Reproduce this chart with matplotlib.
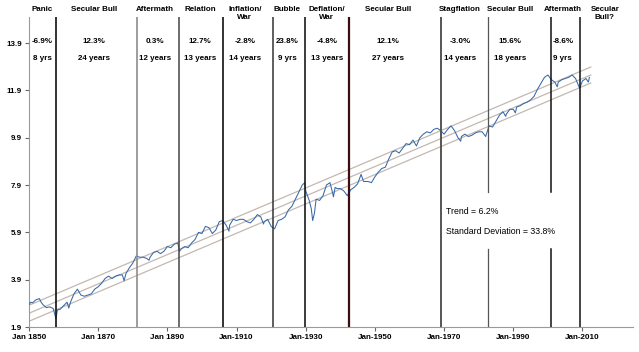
import matplotlib
matplotlib.use('Agg')
from matplotlib import pyplot as plt
from matplotlib import font_manager
import numpy as np

# Narrow face if there is one, plain Liberation otherwise
names = set(f.name for f in font_manager.fontManager.ttflist)
narrow = 'Liberation Sans Narrow' if 'Liberation Sans Narrow' in names else 'Liberation Sans'
plt.rcParams['font.family'] = [narrow, 'DejaVu Sans']
label_size = 6.5 if narrow == 'Liberation Sans Narrow' else 5.8

# Log index
years = [1850.0, 1850.5, 1851, 1852, 1853, 1853.5, 1854, 1855, 1856, 1857, 1857.8, 1858.2, 1859,
         1860, 1861, 1861.5, 1862, 1863, 1864, 1865, 1866, 1867, 1868, 1869, 1870, 1871, 1872,
         1873, 1874, 1875, 1876, 1877, 1877.5, 1878, 1879, 1880, 1881, 1882, 1883, 1884, 1884.7,
         1885, 1886, 1887, 1888, 1889, 1890, 1891, 1892, 1893, 1893.5, 1894, 1895, 1896, 1897,
         1898, 1899, 1900, 1901, 1902, 1903, 1904, 1905, 1906, 1907, 1907.8, 1908, 1909, 1910,
         1911, 1912, 1913, 1914, 1915, 1916, 1917, 1917.8, 1918, 1919, 1920, 1921, 1922, 1923,
         1924, 1925, 1926, 1927, 1928, 1929, 1929.7, 1930, 1931, 1931.6, 1932, 1932.5, 1933,
         1934, 1935, 1936, 1937, 1937.8, 1938, 1938.5, 1939, 1940, 1941, 1942, 1943, 1944, 1945,
         1946, 1946.7, 1947, 1948, 1949, 1950, 1951, 1952, 1953, 1954, 1955, 1956, 1957, 1958,
         1959, 1960, 1961, 1962, 1963, 1964, 1965, 1966, 1967, 1968, 1969, 1970, 1971, 1972,
         1973, 1974, 1974.8, 1975, 1976, 1977, 1978, 1979, 1980, 1981, 1982, 1983, 1984, 1985,
         1986, 1987, 1987.8, 1988, 1989, 1990, 1990.6, 1991, 1992, 1993, 1994, 1995, 1996, 1997,
         1998, 1999, 2000, 2001, 2002, 2002.7, 2003, 2004, 2005, 2006, 2007, 2008, 2009, 2009.2,
         2010, 2011, 2011.7, 2012]
index = [2.85, 2.95, 2.92, 3.05, 3.10, 2.95, 2.85, 2.72, 2.75, 2.68, 2.25, 2.62, 2.65,
         2.80, 2.95, 2.70, 2.95, 3.30, 3.50, 3.25, 3.20, 3.25, 3.30, 3.50, 3.60, 3.75, 3.95,
         4.05, 3.95, 4.05, 4.10, 4.10, 3.85, 4.15, 4.40, 4.60, 4.90, 4.85, 4.85, 4.80, 4.72,
         4.85, 5.05, 5.10, 5.00, 5.10, 5.30, 5.25, 5.40, 5.45, 5.10, 5.20, 5.30, 5.25, 5.45,
         5.60, 5.90, 5.85, 6.15, 6.10, 5.85, 6.00, 6.35, 6.40, 6.20, 5.95, 6.20, 6.45, 6.40,
         6.45, 6.45, 6.35, 6.30, 6.45, 6.65, 6.55, 6.25, 6.35, 6.45, 6.15, 6.05, 6.40, 6.45,
         6.55, 6.85, 7.00, 7.30, 7.60, 7.90, 8.00, 7.65, 7.25, 6.90, 6.40, 6.70, 7.30,
         7.25, 7.45, 7.90, 8.00, 7.55, 7.40, 7.80, 7.75, 7.75, 7.65, 7.45, 7.70, 7.80, 7.95,
         8.35, 8.05, 8.05, 8.05, 8.00, 8.25, 8.45, 8.60, 8.65, 9.00, 9.30, 9.35, 9.25, 9.45,
         9.65, 9.60, 9.80, 9.55, 9.90, 10.05, 10.15, 10.10, 10.25, 10.30, 10.20, 10.05, 10.25, 10.40,
         10.20, 9.90, 9.75, 9.95, 10.05, 9.95, 10.00, 10.10, 10.15, 10.15, 9.95, 10.40, 10.35, 10.60,
         10.85, 11.00, 10.80, 10.90, 11.10, 11.10, 10.95, 11.20, 11.25, 11.35, 11.40, 11.50, 11.65, 11.95,
         12.20, 12.45, 12.55, 12.35, 12.25, 12.05, 12.25, 12.35, 12.40, 12.45, 12.55, 12.40, 12.05, 12.00,
         12.30, 12.40, 12.25, 12.45]

# Trend channel
trend_start = 2.48
trend_slope = 0.062
std_dev = 0.338
trend_years = [1850, 2012.4]

# Era boundaries
era_bounds = [1857.8, 1881.2, 1893.4, 1906.1, 1920.5, 1929.8, 1942.5, 1969.1, 1982.7, 2000.9, 2009.2]
era_colors = ['#111111', '#8c8c8c', '#444444', '#111111', '#333333', '#1a1a1a',
              '#3a0d12', '#555555', '#555555', '#111111', '#111111']
era_widths = [1.2, 1.2, 1.1, 1.2, 1.1, 1.2, 1.6, 1.4, 0.9, 1.1, 1.1]
broken_eras = [1982.7, 2000.9]

era_names = ['Panic', 'Secular Bull', 'Aftermath', 'Relation', 'Inflation/\nWar', 'Bubble',
             'Deflation/\nWar', 'Secular Bull', 'Stagflation', 'Secular Bull', 'Aftermath',
             'Secular\nBull?']
era_centers = [1853.8, 1868.8, 1886.4, 1899.4, 1912.4, 1924.6, 1936.1, 1953.8, 1974.6, 1989.0,
               2004.3, 2016.5]
era_returns = ['-6.9%', '12.3%', '0.3%', '12.7%', '-2.8%', '23.8%', '-4.8%', '12.1%', '-3.0%',
               '15.6%', '-8.6%']
era_lengths = ['8 yrs', '24 years', '12 years', '13 years', '14 years', '9 yrs', '13 years',
               '27 years', '14 years', '18 years', '9 yrs']

yticks = [1.9, 3.9, 5.9, 7.9, 9.9, 11.9, 13.9]
xticks = [1850, 1870, 1890, 1910, 1930, 1950, 1970, 1990, 2010]
xlabels = ['Jan 1850', 'Jan 1870', 'Jan 1890', 'Jan-1910', 'Jan-1930', 'Jan-1950',
           'Jan-1970', 'Jan-1990', 'Jan-2010']

fig = plt.figure(figsize=(6.39, 3.52), dpi=100)
ax = fig.add_axes([29 / 639, 1 - 327 / 352, 604 / 639, 310 / 352])
ax.set_xlim(1850, 2024.6)
ax.set_ylim(1.9, 15.0)

# Trend channel
ty = np.array(trend_years)
tmid = trend_start + trend_slope * (ty - 1850)
for off in (std_dev, 0, -std_dev):
    ax.plot(ty, tmid + off, color='#c4b8b0', lw=0.9, zorder=2)

ax.plot(years, index, color='#3569a8', lw=0.75, zorder=3)

# Era lines
for x, c, w in zip(era_bounds, era_colors, era_widths):
    if x in broken_eras:
        ax.plot([x, x], [1.9, 5.18], color=c, lw=w, zorder=4)
        ax.plot([x, x], [7.6, 15.0], color=c, lw=w, zorder=4)
    else:
        ax.plot([x, x], [1.9, 15.0], color=c, lw=w, zorder=4)

hdr = dict(ha='center', fontsize=label_size, fontweight='bold', clip_on=False)
for name, xc in zip(era_names, era_centers):
    ax.text(xc, 15.45, name, va='top', linespacing=1.05, **hdr)
for r, l, xc in zip(era_returns, era_lengths, era_centers):
    ax.text(xc, 13.95, r, va='center', **hdr)
    ax.text(xc, 13.25, l, va='center', **hdr)

ax.text(1970.5, 6.79, 'Trend = 6.2%', fontsize=6.3, va='center', family=['Liberation Sans', 'DejaVu Sans'])
ax.text(1970.5, 5.94, 'Standard Deviation = 33.8%', fontsize=6.3, va='center',
        family=['Liberation Sans', 'DejaVu Sans'])

ax.set_yticks(yticks)
ax.set_yticklabels(['%.1f' % v for v in yticks], fontsize=label_size, fontweight='bold')
ax.set_xticks(xticks)
ax.set_xticklabels(xlabels, fontsize=label_size, fontweight='bold')
ax.tick_params(axis='both', length=3, width=0.8, color='#666666', pad=2)
for s in ('top', 'right'):
    ax.spines[s].set_visible(False)
ax.spines['left'].set_color('#9a9a9a')
ax.spines['bottom'].set_color('#9a9a9a')

plt.savefig('out.png', dpi=100)
